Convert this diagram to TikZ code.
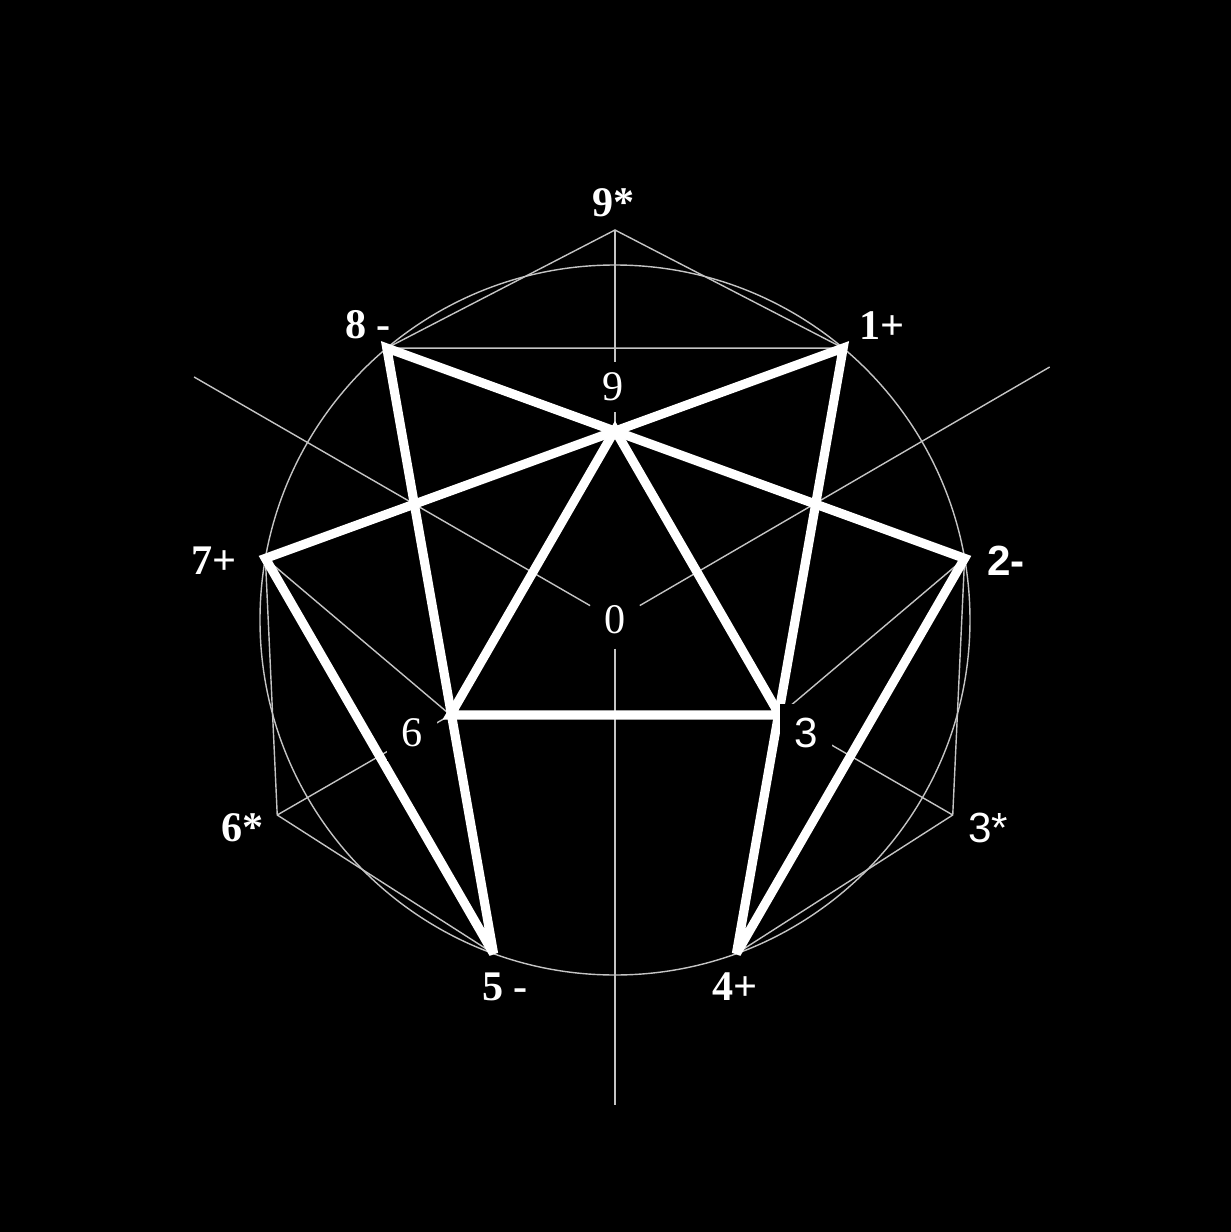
\documentclass[tikz,border=0pt]{standalone}
\usepackage{fontspec}
\setmainfont{Liberation Serif}
\newfontfamily\labelsans{Liberation Sans}
\definecolor{guidegray}{HTML}{C4C4C4}

\begin{document}
\begin{tikzpicture}[
  guide/.style={draw=guidegray, line width=0.4pt},
  bold/.style={draw=white, line width=2.6pt, line join=miter, miter limit=2.5},
  pt/.style={font=\fontsize{12}{14}\selectfont\bfseries, text=white,
             inner sep=1.5pt},
  ptin/.style={font=\fontsize{12}{14}\selectfont, text=white,
               fill=black, inner sep=3pt},
]
% ---- Page: black background ----
\useasboundingbox (-6.15,-6.12) rectangle (6.16,6.20);
\fill[black] (-6.15,-6.12) rectangle (6.16,6.20);

% ---- Points on the circle and the star ----
\coordinate (O) at (0,0);
\coordinate (p1) at (50:3.55);
\coordinate (p2) at (10:3.55);
\coordinate (p4) at (-70:3.55);
\coordinate (p5) at (-110:3.55);
\coordinate (p7) at (170:3.55);
\coordinate (p8) at (130:3.55);
\coordinate (p9s) at (90:3.90);
\coordinate (p3s) at (-30:3.90);
\coordinate (p6s) at (-150:3.90);
\coordinate (i9) at (90:1.90);
\coordinate (i3) at (-30:1.90);
\coordinate (i6) at (-150:1.90);
\coordinate (rayR) at (30.2:5.03);
\coordinate (rayL) at (150:4.86);
\coordinate (rayD) at (-90:4.85);

% ---- Thin guide lines ----
\draw[guide] (O) circle (3.55);
\draw[guide] (p8) -- (p9s) -- (p1) -- (p8);
\draw[guide] (p7) -- (p6s) -- (p5);
\draw[guide] (p2) -- (p3s) -- (p4);
\draw[guide] (p7) -- (i6);
\draw[guide] (p2) -- (i3);
\draw[guide] (p6s) -- (i6);
\draw[guide] (p3s) -- (i3);
\draw[guide] (p9s) -- (i9);

\node[ptin, circle, minimum size=0.56cm, inner sep=0pt] (zero) at (O) {0};
\draw[guide] (zero) -- (rayR);
\draw[guide] (zero) -- (rayL);
\draw[guide] (zero) -- (rayD);

% ---- Thick star and inner triangle ----
\draw[bold] (p1) -- (p7) -- (p5) -- (p8) -- (p2) -- (p4) -- cycle;
\draw[bold] (i9) -- (i6) -- (i3) -- cycle;

% ---- Labels ----
\node[pt] (l9s) at (-0.01,4.17) {9*};
\node[pt] (l8) at (-2.47,2.95) {8 -};
\node[pt] (l1) at (2.67,2.94) {1+};
\node[ptin] (l9) at (-0.02,2.33) {9};
\node[pt] (l7) at (-4.01,0.59) {7+};
\node[pt, font=\fontsize{12}{14}\selectfont\labelsans\bfseries] (l2) at (3.91,0.59) {2-};
\node[ptin, inner sep=4pt] (l6) at (-2.03,-1.13) {6};
\node[ptin, inner sep=4pt, font=\fontsize{12}{14}\selectfont\labelsans] (l3) at (1.91,-1.13) {3};
\node[pt] (l6s) at (-3.72,-2.08) {6*};
\node[pt, font=\fontsize{12}{14}\selectfont\labelsans] (l3s) at (3.73,-2.08) {3*};
\node[pt] (l5) at (-1.10,-3.67) {5 -};
\node[pt] (l4) at (1.20,-3.67) {4+};

\end{tikzpicture}
\end{document}
